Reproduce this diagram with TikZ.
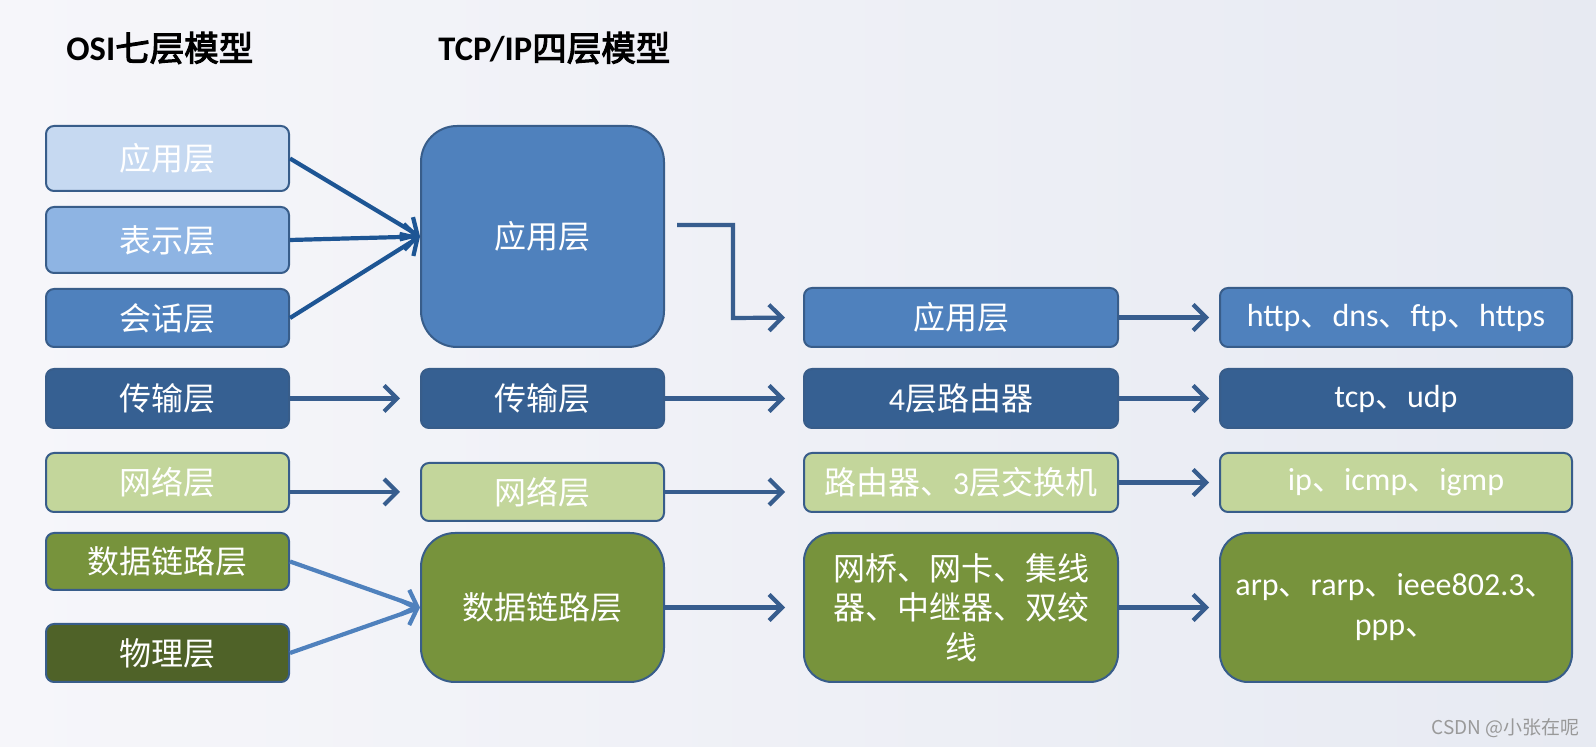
\documentclass[tikz,border=0pt]{standalone}
\usepackage{fontspec}
\setmainfont{Carlito}
\newfontfamily\cjk{Noto Sans CJK SC}
\newfontfamily\cjkbold[FakeBold=3]{Noto Sans CJK SC}
\newfontfamily\latf{Carlito}
\newcommand\la[1]{{\latf #1}}
\usetikzlibrary{arrows.meta}
\definecolor{bgl}{HTML}{F6F6FA}
\definecolor{bgr}{HTML}{E7EAF2}
\definecolor{c1}{HTML}{C6D9F1}
\definecolor{c2}{HTML}{8EB4E3}
\definecolor{c3}{HTML}{4F81BD}
\definecolor{c4}{HTML}{366092}
\definecolor{c5}{HTML}{C3D69B}
\definecolor{c6}{HTML}{77933C}
\definecolor{c7}{HTML}{4F6228}
\definecolor{bd}{HTML}{385D8A}
\definecolor{aA}{HTML}{1D5594}
\definecolor{aB}{HTML}{4F81BD}
\definecolor{aC}{HTML}{375D8E}
\tikzset{
  box/.style={draw=bd, line width=1pt, rounded corners=4pt, text=white, inner sep=0pt,
    align=center, font=\cjk\fontsize{16pt}{19.75pt}\selectfont},
  sz/.style 2 args={minimum width=#1*0.5pt, minimum height=#2*0.5pt},
  arr/.style={line width=2.1pt, -{Straight Barb[length=6.5pt,width=13pt]}},
  ttl/.style={anchor=west, inner sep=0pt, font=\fontsize{17.25pt}{20pt}\selectfont},
}
\begin{document}
\begin{tikzpicture}[x=0.5pt,y=-0.5pt]
\useasboundingbox (0,0) rectangle (1596,747);
\shade[left color=bgl, right color=bgr] (0,0) rectangle (1596,747);

% titles
\node[ttl] (t1) at (66,48) {{\latf\bfseries OSI}{\cjkbold 七层模型}};
\node[ttl] (t2) at (438,48) {{\latf\bfseries TCP/IP}{\cjkbold 四层模型}};

% OSI column
\node[box, sz={243}{65}, fill=c1] (oapp) at (167.5,158.5) {应用层};
\node[box, sz={243}{66}, fill=c2] (opre) at (167.5,240) {表示层};
\node[box, sz={243}{58}, fill=c3] (oses) at (167.5,318) {会话层};
\node[box, sz={243}{59}, fill=c4] (otra) at (167.5,398.5) {传输层};
\node[box, sz={243}{59}, fill=c5] (onet) at (167.5,482.5) {网络层};
\node[box, sz={243}{57}, fill=c6] (odl) at (167.5,561.5) {数据链路层};
\node[box, sz={243}{58}, fill=c7] (ophy) at (167.5,653) {物理层};

% TCP/IP column
\node[box, sz={243}{221}, fill=c3, rounded corners=18pt] (tapp) at (542.5,236.5) {应用层};
\node[box, sz={243}{59}, fill=c4] (ttra) at (542.5,398.5) {传输层};
\node[box, sz={243}{58}, fill=c5] (tnet) at (542.5,492) {网络层};
\node[box, sz={243}{149}, fill=c6, rounded corners=17pt] (tdl) at (542.5,607.5) {数据链路层};

% devices column
\node[box, sz={314}{59}, fill=c3] (capp) at (961,317.5) {应用层};
\node[box, sz={314}{59}, fill=c4] (ctra) at (961,398.5) {\la{4}层路由器};
\node[box, sz={314}{59}, fill=c5] (cnet) at (961,482.5) {路由器、\la{3}层交换机};
\node[box, sz={314}{149}, fill=c6, rounded corners=14pt] (cdl) at (961,607.5) {网桥、网卡、集线\\器、中继器、双绞\\线};

% protocols column
\node[box, sz={352}{59}, fill=c3] (kapp) at (1396,317.5) {\la{http}、\la{dns}、\la{ftp}、\la{https}};
\node[box, sz={352}{59}, fill=c4] (ktra) at (1396,398.5) {\la{tcp}、\la{udp}};
\node[box, sz={352}{59}, fill=c5] (knet) at (1396,482.5) {\la{ip}、\la{icmp}、\la{igmp}};
\node[box, sz={352}{149}, fill=c6, rounded corners=14pt, font=\cjk\fontsize{16pt}{20pt}\selectfont] (kdl) at (1396,607.5) {\la{arp}、\la{rarp}、\la{ieee802.3}、\\\la{ppp}、};

% watermark
\node[anchor=east, inner sep=0pt, text=black!40, font=\cjk\fontsize{9.5pt}{11pt}\selectfont] (wm) at (1580,728) {CSDN @小张在呢};

% arrows OSI -> TCP/IP
\draw[arr, aA] (oapp.east) -- (tapp.west);
\draw[arr, aA] (opre.east) -- (tapp.west);
\draw[arr, aA] (oses.east) -- (tapp.west);
\draw[arr, aC, shorten >=10pt] (otra.east) -- (ttra.west);
\draw[arr, aC, shorten >=10pt] (onet.east |- tnet.west) -- (tnet.west);
\draw[arr, aB] (odl.east) -- (tdl.west);
\draw[arr, aB] (ophy.east) -- (tdl.west);

% TCP/IP -> devices
\coordinate (elb) at (677,225);
\coordinate (elbb) at (733,318);
\draw[arr, aC, shorten >=9pt] (elb) -| (elbb) -- (capp.west);
\draw[arr, aC, shorten >=9pt] (ttra.east) -- (ctra.west);
\draw[arr, aC, shorten >=9pt] (tnet.east) -- (cnet.west |- tnet.east);
\draw[arr, aC, shorten >=9pt] (tdl.east) -- (cdl.west);

% devices -> protocols
\draw[arr, aC, shorten >=5pt] (capp.east) -- (kapp.west);
\draw[arr, aC, shorten >=5pt] (ctra.east) -- (ktra.west);
\draw[arr, aC, shorten >=5pt] (cnet.east) -- (knet.west);
\draw[arr, aC, shorten >=5pt] (cdl.east) -- (kdl.west);
\end{tikzpicture}
\end{document}
